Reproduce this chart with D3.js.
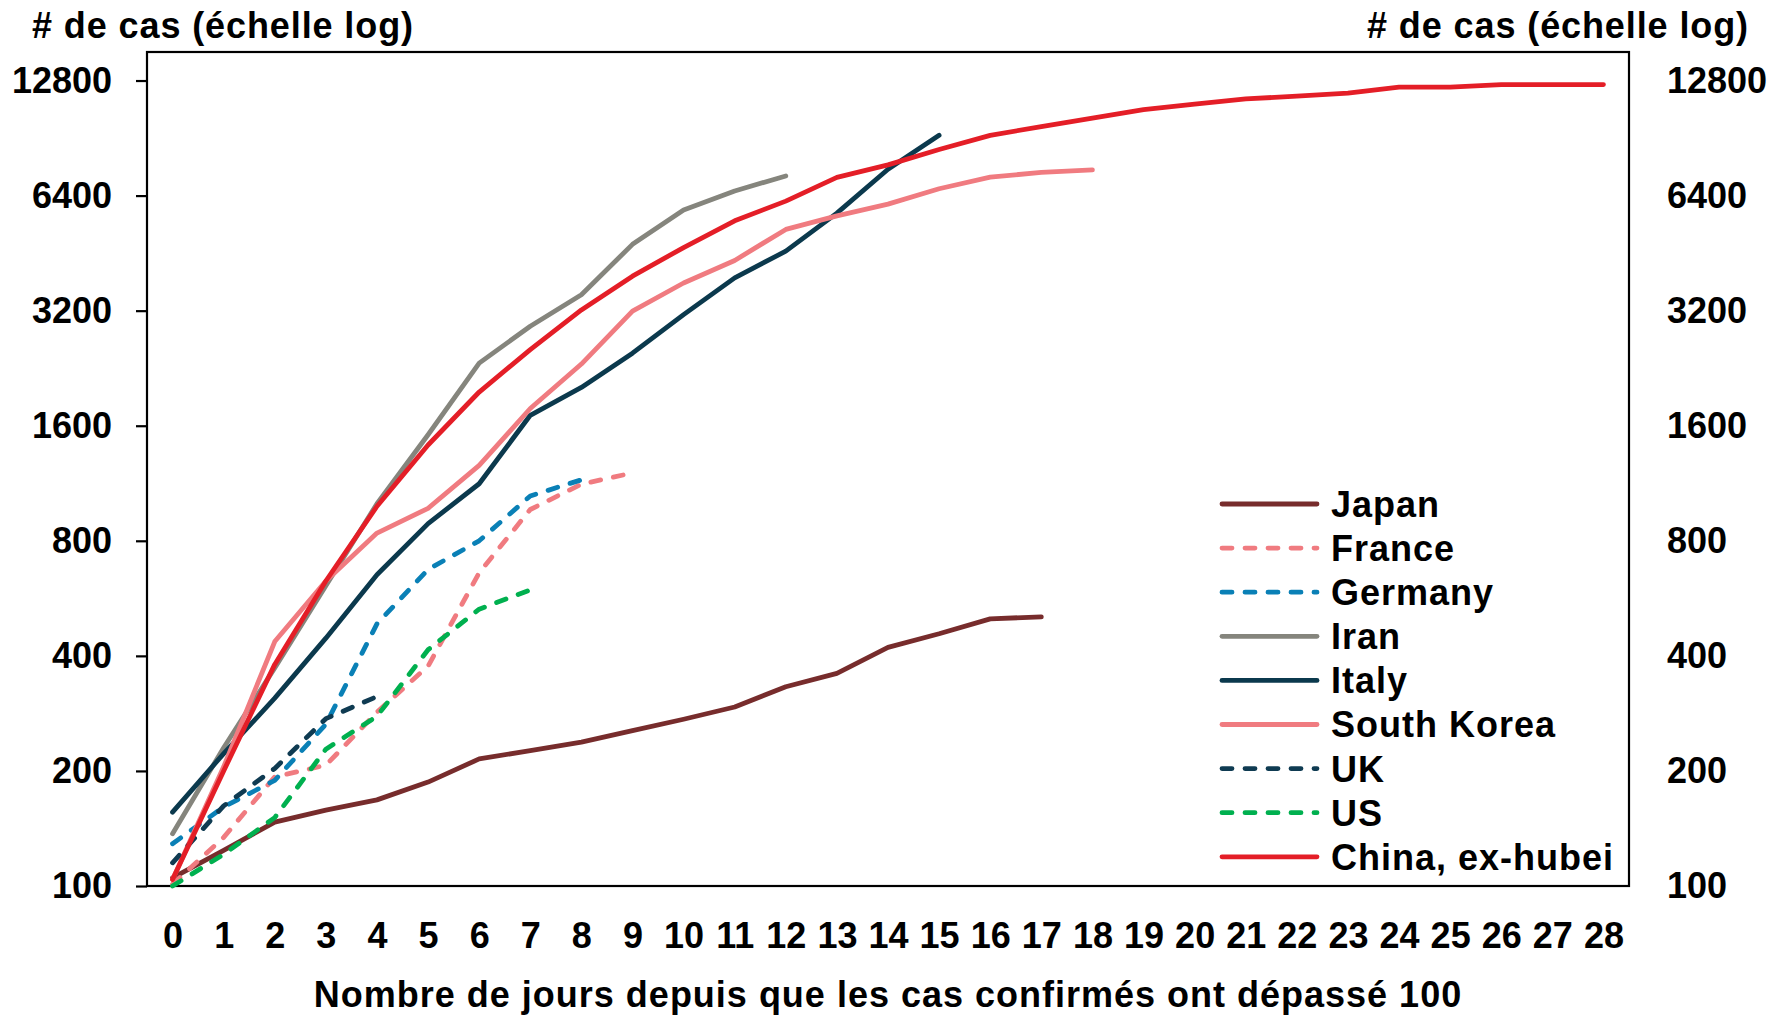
<!DOCTYPE html>
<html>
<head>
<meta charset="utf-8">
<script src="https://cdn.jsdelivr.net/npm/d3@7"></script>
<style>
	html, body { margin: 0; padding: 0; background: #fff; }
	#chart { width: 1775px; height: 1015px; }
	text { font-family: 'Liberation Sans', Arial, sans-serif; font-weight: bold; fill: #000; }
</style>
</head>
<body>
<div id="chart"></div>
<script>
// jours depuis 100 cas
let days = d3.range(0, 29);
let yTicks = [100, 200, 400, 800, 1600, 3200, 6400, 12800];

let japan = [105, 124, 147, 158, 168, 187, 215, 226, 238, 255, 273, 294, 332, 360, 421, 457, 500, 506];
let france = [101, 134, 193, 207, 285, 376, 660, 966, 1125, 1204];
let germany = [129, 161, 189, 265, 485, 673, 800, 1048, 1155];
let iran = [137, 230, 372, 610, 1000, 1515, 2333, 2913, 3522, 4771, 5869, 6582, 7205];
let italy = [156, 222, 310, 445, 652, 887, 1128, 1704, 2015, 2477, 3125, 3900, 4580, 5760, 7500, 9200];
let southKorea = [104, 205, 436, 628, 838, 973, 1260, 1775, 2320, 3190, 3780, 4330, 5220, 5665, 6080, 6670, 7150, 7360, 7470];
let uk = [115, 162, 203, 274, 313];
let us = [100, 121, 151, 228, 278, 415, 530, 595];
let china = [104, 200, 380, 628, 985, 1425, 1960, 2530, 3215, 3940, 4680, 5500, 6190, 7140, 7700, 8450, 9200, 9700,
	10200, 10740, 11100, 11460, 11650, 11860, 12300, 12300, 12490, 12490, 12490];

let seriesNames = ['Japan', 'France', 'Germany', 'Iran', 'Italy', 'South Korea', 'UK', 'US', 'China, ex-hubei'];
let seriesValues = [japan, france, germany, iran, italy, southKorea, uk, us, china];
let seriesColors = ['#772c2c', '#f07b80', '#0a80b6', '#85857d', '#0b394d', '#f07b80', '#0f3b52', '#00b04f', '#e41e27'];
let seriesDashed = [false, true, true, false, false, false, true, true, false];

let LogChart = function (ele, opts = {}) {
	typeof(ele) == 'string' && (ele = document.getElementById(ele));
	this.ele = ele;
	this.w = 1775;
	this.h = 1015;
	this.opts = opts;
	this.lineW = opts.lineW || 4.8;
	this.dash = opts.dash || '10,13';
	this.box = {left: 147, right: 1629, top: 52, bottom: 886};
	this.svg = d3.select(ele).append('svg').attr('width', this.w).attr('height', this.h);
	this.init();
}

LogChart.prototype = {
	init () {
		this.setScales();
		this.setAxes();
		this.setLines();
		this.setLegend();
		this.setTitles();
	},
	setScales () {
		let b = this.box;
		this.x = d3.scalePoint().domain(days).range([b.left, b.right]).padding(0.5);
		this.y = d3.scaleLog().base(2).domain([100, 15200]).range([b.bottom, b.top]);
	},
	setAxes () {
		let b = this.box;
		let x = this.x, y = this.y;
		// cadre
		this.svg.append('rect').attr('x', b.left).attr('y', b.top)
			.attr('width', b.right - b.left).attr('height', b.bottom - b.top)
			.attr('fill', 'none').attr('stroke', '#000').attr('stroke-width', 2.2);

		let left = this.svg.append('g').attr('transform', `translate(${b.left},0)`)
			.call(d3.axisLeft(y).tickValues(yTicks).tickFormat(d3.format('d')).tickSize(11).tickPadding(24));
		left.select('.domain').remove();
		left.selectAll('line').attr('stroke', '#000').attr('stroke-width', 2.2);
		left.selectAll('text').attr('font-size', 36).attr('font-family', null).attr('fill', '#000');

		let right = this.svg.append('g').attr('transform', `translate(${b.right},0)`)
			.call(d3.axisRight(y).tickValues(yTicks).tickFormat(d3.format('d')).tickSize(0).tickPadding(38));
		right.select('.domain').remove();
		right.selectAll('text').attr('font-size', 36).attr('font-family', null).attr('fill', '#000');

		let bottom = this.svg.append('g').attr('transform', `translate(0,${b.bottom})`)
			.call(d3.axisBottom(x).tickSize(0).tickPadding(36));
		bottom.select('.domain').remove();
		bottom.selectAll('text').attr('font-size', 36).attr('font-family', null).attr('fill', '#000');
	},
	setLines () {
		let x = this.x, y = this.y;
		let that = this;
		let line = d3.line().x((d, i) => x(days[i])).y(d => y(d));
		let g = this.svg.append('g').attr('class', 'linesCollect');
		seriesValues.forEach((vals, k) => {
			g.append('path').attr('d', line(vals))
				.attr('fill', 'none')
				.attr('stroke', seriesColors[k])
				.attr('stroke-width', that.lineW)
				.attr('stroke-linejoin', 'round')
				.attr('stroke-linecap', 'round')
				.attr('stroke-dasharray', seriesDashed[k] ? that.dash : null);
		});
	},
	setLegend () {
		let that = this;
		let g = this.svg.append('g').attr('class', 'legend');
		let rows = g.selectAll('g').data(seriesNames).enter().append('g')
			.attr('transform', (d, i) => `translate(1222,${504 + i * 44.1})`);
		rows.append('line').attr('x1', 0).attr('x2', 95).attr('y1', 0).attr('y2', 0)
			.attr('stroke', (d, i) => seriesColors[i])
			.attr('stroke-width', that.lineW)
			.attr('stroke-linecap', 'round')
			.attr('stroke-dasharray', (d, i) => seriesDashed[i] ? that.dash : null);
		rows.append('text').attr('x', 109).attr('y', 0).attr('dy', '0.36em')
			.attr('font-size', 36).attr('letter-spacing', 1).text(d => d);
	},
	setTitles () {
		let b = this.box;
		this.svg.append('text').attr('x', 32).attr('y', 38).attr('font-size', 36)
			.attr('letter-spacing', 0.9).text('# de cas (échelle log)');
		this.svg.append('text').attr('x', 1749).attr('y', 38).attr('font-size', 36)
			.attr('letter-spacing', 0.9).attr('text-anchor', 'end').text('# de cas (échelle log)');
		this.svg.append('text').attr('x', (b.left + b.right) / 2).attr('y', 1007).attr('font-size', 36)
			.attr('letter-spacing', 1).attr('text-anchor', 'middle')
			.text('Nombre de jours depuis que les cas confirmés ont dépassé 100');
	}
}

new LogChart('chart');
</script>
</body>
</html>
